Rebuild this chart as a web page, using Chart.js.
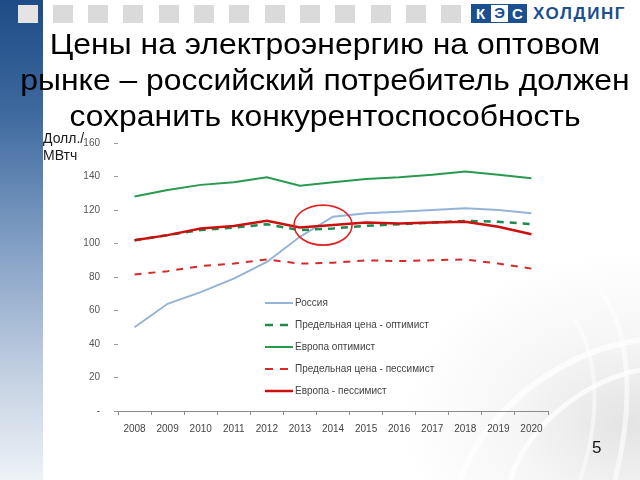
<!DOCTYPE html>
<html>
<head>
<meta charset="utf-8">
<script src="https://cdn.jsdelivr.net/npm/chart.js@4"></script>
<style>
	html, body { margin: 0; padding: 0; }
	body { width: 640px; height: 480px; position: relative; overflow: hidden; background: #ffffff; font-family: Arial, 'Liberation Sans', sans-serif; }
	#stripe { position: absolute; left: 0; top: 0; width: 43px; height: 480px; background: linear-gradient(#1f4c86 0%, #3b679d 22%, #7f9dc3 50%, #c3d0e2 78%, #eef2f7 100%); }
	#swirl { position: absolute; left: 400px; top: 250px; width: 240px; height: 230px; background: radial-gradient(ellipse at 95% 75%, rgba(200,200,200,0.5) 0%, rgba(225,225,225,0.3) 35%, rgba(255,255,255,0) 70%); }
	#swirl svg { position: absolute; left: 0; top: 0; }
	.sq { position: absolute; top: 5px; width: 20px; height: 18px; background: #dadada; }
	.logo { position: absolute; top: 4px; width: 19px; height: 19px; box-sizing: border-box; font: bold 15px Arial, sans-serif; line-height: 19px; text-align: center; }
	.logo.fill { background: #1b4f8f; color: #ffffff; }
	.logo.open { background: #ffffff; color: #1b4f8f; border: 1.5px solid #1b4f8f; line-height: 16px; }
	#holding { position: absolute; left: 533px; top: 4px; font: bold 17px Arial, sans-serif; color: #1b4f8f; letter-spacing: 1.6px; }
	#title { position: absolute; left: 0; top: 26px; width: 650px; text-align: center; font-size: 29px; line-height: 36px; color: #000000; transform: scaleX(1.1); transform-origin: 325px 0; }
	#unit { position: absolute; left: 43px; top: 130px; font-size: 14px; line-height: 17px; color: #1a1a1a; }
	#page { position: absolute; left: 592px; top: 438px; font-size: 17px; line-height: 19px; color: #111111; }
	#chartcanvas { position: absolute; left: 0; top: 0; }
</style>
</head>
<body>
<div id="stripe"></div>
<div id="swirl">
	<svg width="240" height="230">
		<path d="M 60 230 C 90 150, 170 100, 240 90" fill="none" stroke="rgba(255,255,255,0.7)" stroke-width="6"/>
		<path d="M 110 230 C 130 170, 190 130, 240 120" fill="none" stroke="rgba(255,255,255,0.7)" stroke-width="5"/>
		<path d="M 200 40 C 230 80, 235 150, 215 230" fill="none" stroke="rgba(255,255,255,0.6)" stroke-width="5"/>
		<path d="M 175 70 C 200 110, 200 170, 180 230" fill="none" stroke="rgba(255,255,255,0.5)" stroke-width="4"/>
	</svg>
</div>
<div id="squares"></div>
<div class="logo fill" style="left:471px">К</div>
<div class="logo open" style="left:490px">Э</div>
<div class="logo fill" style="left:508px">С</div>
<div id="holding">ХОЛДИНГ</div>
<canvas id="chartcanvas" width="640" height="480"></canvas>
<div id="title">Цены на электроэнергию на оптовом<br>рынке – российский потребитель должен<br>сохранить конкурентоспособность</div>
<div id="unit">Долл./<br>МВтч</div>
<div id="page">5</div>
<script>
const years = ['2008', '2009', '2010', '2011', '2012', '2013', '2014', '2015', '2016', '2017', '2018', '2019', '2020'];

const russia = [50, 64, 71, 79, 89, 104, 116, 118, 119, 120, 121, 120, 118];
const limitOptimist = [102, 105, 108, 109.5, 111.5, 108, 109, 110.5, 111.5, 112.5, 113.5, 113, 111.5];
const europeOptimist = [128, 132, 135, 136.5, 139.5, 134.5, 136.5, 138.5, 139.5, 141, 143, 141, 139];
const limitPessimist = [81.5, 83.5, 86.5, 88, 90.5, 88, 88.5, 90, 89.5, 90, 90.5, 88, 85];
const europePessimist = [102, 105, 109, 110.5, 113.5, 109.5, 111, 112.5, 112, 112.5, 113, 110, 105.5];

const seriesNames = ['Россия', 'Предельная цена - оптимист', 'Европа оптимист', 'Предельная цена - пессимист', 'Европа - пессимист'];
const zeroTickLabel = '-';

document.addEventListener('DOMContentLoaded', function(event) {
	const fontFamily = 'Arial, "Liberation Sans", sans-serif';

	// grey squares along the top
	let squares = document.getElementById('squares');
	for(let i = 0; i < 13; i++){
		let sq = document.createElement('div');
		sq.className = 'sq';
		sq.style.left = (17.5 + i * 35.3) + 'px';
		if(i === 0){
			sq.style.background = '#e4e4e4';
		}
		squares.appendChild(sq);
	}

	// legend drawn inside the plot, Excel style
	const insideLegend = {
		id: 'insideLegend',
		afterDraw: function(chart){
			const ctx = chart.ctx;
			ctx.save();
			ctx.font = '10px ' + fontFamily;
			ctx.textBaseline = 'middle';
			chart.data.datasets.forEach(function(ds, row){
				const y = 303 + row * 22;
				ctx.strokeStyle = ds.borderColor;
				ctx.lineWidth = ds.borderWidth;
				ctx.setLineDash(ds.borderDash ? [8, 7] : []);
				ctx.beginPath();
				ctx.moveTo(265, y);
				ctx.lineTo(293, y);
				ctx.stroke();
				ctx.setLineDash([]);
				ctx.fillStyle = '#444444';
				ctx.fillText(ds.label, 295, y);
			});
			ctx.restore();
		}
	};

	// red ellipse around the crossing point
	const crossMark = {
		id: 'crossMark',
		afterDatasetsDraw: function(chart){
			const x = chart.scales.x.getPixelForValue(5.7);
			const y = chart.scales.y.getPixelForValue(111);
			const ctx = chart.ctx;
			ctx.save();
			ctx.strokeStyle = '#e02222';
			ctx.lineWidth = 1.6;
			ctx.beginPath();
			ctx.ellipse(x, y, 29, 20, 0, 0, Math.PI * 2);
			ctx.stroke();
			ctx.restore();
		}
	};

	new Chart(
		document.getElementById('chartcanvas'),
		{
			type: 'line',
			data: {
				labels: years,
				datasets: [
					{ label: seriesNames[0], data: russia, borderColor: '#95b3d7', borderWidth: 2, order: 5 },
					{ label: seriesNames[1], data: limitOptimist, borderColor: '#1f8a4c', borderWidth: 2.5, borderDash: [7, 6], order: 4 },
					{ label: seriesNames[2], data: europeOptimist, borderColor: '#2a9950', borderWidth: 2, order: 3 },
					{ label: seriesNames[3], data: limitPessimist, borderColor: '#d42a2a', borderWidth: 2, borderDash: [7, 7], order: 2 },
					{ label: seriesNames[4], data: europePessimist, borderColor: '#cc1010', borderWidth: 2.5, order: 1 }
				]
			},
			options: {
				responsive: false,
				animation: false,
				elements: {
					point: { radius: 0 },
					line: { tension: 0, fill: false }
				},
				layout: {
					padding: { left: 58, right: 92, top: 143, bottom: 39 }
				},
				plugins: {
					legend: { display: false },
					title: { display: false },
					tooltip: { enabled: false }
				},
				scales: {
					x: {
						offset: true,
						afterFit: function(scale){ scale.height = 30; },
						border: { display: true, color: '#8c8c8c', width: 1 },
						grid: { offset: true, drawOnChartArea: false, drawTicks: true, tickLength: 4, color: '#8c8c8c' },
						ticks: {
							color: '#444444',
							padding: 8,
							maxRotation: 0,
							autoSkip: false,
							font: { family: fontFamily, size: 10 }
						}
					},
					y: {
						min: 0,
						max: 160,
						afterFit: function(scale){ scale.width = 60; },
						border: { display: false },
						grid: { drawOnChartArea: false, drawTicks: true, tickLength: 4, color: '#9a9a9a' },
						ticks: {
							stepSize: 20,
							color: '#555555',
							padding: 14,
							font: { family: fontFamily, size: 10 },
							callback: function(value){
								return value === 0 ? zeroTickLabel : value;
							}
						}
					}
				}
			},
			plugins: [crossMark, insideLegend]
		}
	);
});
</script>
</body>
</html>
